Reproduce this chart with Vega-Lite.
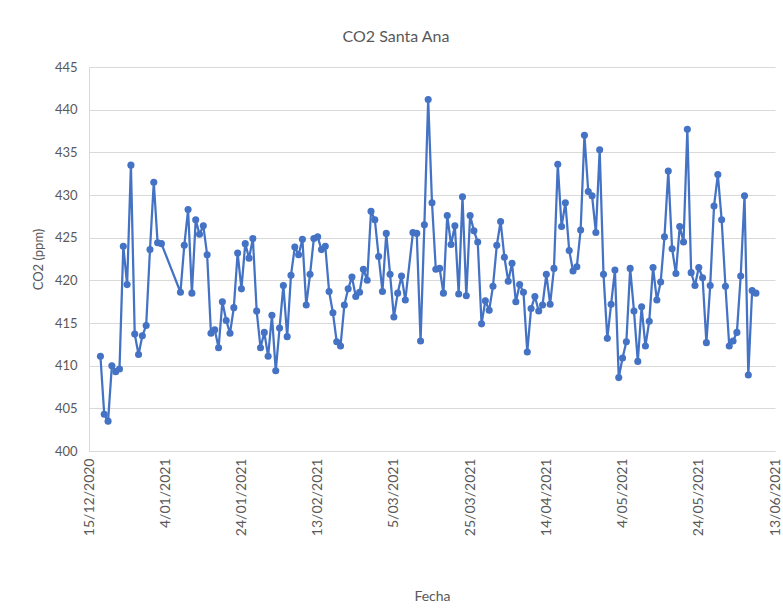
{
  "$schema": "https://vega.github.io/schema/vega-lite/v6.json",
  "width": 686,
  "height": 384,
  "autosize": {"type": "none"},
  "padding": {"left": 89, "top": 67, "right": 8, "bottom": 158},
  "background": "white",
  "title": {"text": "CO2 Santa Ana", "font": "Lato", "fontSize": 16, "fontWeight": "normal", "color": "#595959", "offset": 16, "anchor": "middle", "dx": -36},
  "config": {"view": {"stroke": null}},
  "data": {"values": [
    {"fecha": "2020-12-18", "co2": 411.1},
    {"fecha": "2020-12-19", "co2": 404.3},
    {"fecha": "2020-12-20", "co2": 403.5},
    {"fecha": "2020-12-21", "co2": 410.0},
    {"fecha": "2020-12-22", "co2": 409.3},
    {"fecha": "2020-12-23", "co2": 409.6},
    {"fecha": "2020-12-24", "co2": 424.0},
    {"fecha": "2020-12-25", "co2": 419.5},
    {"fecha": "2020-12-26", "co2": 433.5},
    {"fecha": "2020-12-27", "co2": 413.7},
    {"fecha": "2020-12-28", "co2": 411.3},
    {"fecha": "2020-12-29", "co2": 413.5},
    {"fecha": "2020-12-30", "co2": 414.7},
    {"fecha": "2020-12-31", "co2": 423.6},
    {"fecha": "2021-01-01", "co2": 431.5},
    {"fecha": "2021-01-02", "co2": 424.4},
    {"fecha": "2021-01-03", "co2": 424.3},
    {"fecha": "2021-01-08", "co2": 418.6},
    {"fecha": "2021-01-09", "co2": 424.1},
    {"fecha": "2021-01-10", "co2": 428.3},
    {"fecha": "2021-01-11", "co2": 418.5},
    {"fecha": "2021-01-12", "co2": 427.1},
    {"fecha": "2021-01-13", "co2": 425.4},
    {"fecha": "2021-01-14", "co2": 426.4},
    {"fecha": "2021-01-15", "co2": 423.0},
    {"fecha": "2021-01-16", "co2": 413.8},
    {"fecha": "2021-01-17", "co2": 414.2},
    {"fecha": "2021-01-18", "co2": 412.1},
    {"fecha": "2021-01-19", "co2": 417.5},
    {"fecha": "2021-01-20", "co2": 415.3},
    {"fecha": "2021-01-21", "co2": 413.8},
    {"fecha": "2021-01-22", "co2": 416.8},
    {"fecha": "2021-01-23", "co2": 423.2},
    {"fecha": "2021-01-24", "co2": 419.0},
    {"fecha": "2021-01-25", "co2": 424.3},
    {"fecha": "2021-01-26", "co2": 422.6},
    {"fecha": "2021-01-27", "co2": 424.9},
    {"fecha": "2021-01-28", "co2": 416.4},
    {"fecha": "2021-01-29", "co2": 412.1},
    {"fecha": "2021-01-30", "co2": 413.9},
    {"fecha": "2021-01-31", "co2": 411.1},
    {"fecha": "2021-02-01", "co2": 415.9},
    {"fecha": "2021-02-02", "co2": 409.4},
    {"fecha": "2021-02-03", "co2": 414.4},
    {"fecha": "2021-02-04", "co2": 419.4},
    {"fecha": "2021-02-05", "co2": 413.4},
    {"fecha": "2021-02-06", "co2": 420.6},
    {"fecha": "2021-02-07", "co2": 423.9},
    {"fecha": "2021-02-08", "co2": 423.0},
    {"fecha": "2021-02-09", "co2": 424.8},
    {"fecha": "2021-02-10", "co2": 417.1},
    {"fecha": "2021-02-11", "co2": 420.7},
    {"fecha": "2021-02-12", "co2": 424.9},
    {"fecha": "2021-02-13", "co2": 425.1},
    {"fecha": "2021-02-14", "co2": 423.6},
    {"fecha": "2021-02-15", "co2": 424.0},
    {"fecha": "2021-02-16", "co2": 418.7},
    {"fecha": "2021-02-17", "co2": 416.2},
    {"fecha": "2021-02-18", "co2": 412.8},
    {"fecha": "2021-02-19", "co2": 412.3},
    {"fecha": "2021-02-20", "co2": 417.1},
    {"fecha": "2021-02-21", "co2": 419.0},
    {"fecha": "2021-02-22", "co2": 420.4},
    {"fecha": "2021-02-23", "co2": 418.1},
    {"fecha": "2021-02-24", "co2": 418.6},
    {"fecha": "2021-02-25", "co2": 421.3},
    {"fecha": "2021-02-26", "co2": 420.0},
    {"fecha": "2021-02-27", "co2": 428.1},
    {"fecha": "2021-02-28", "co2": 427.1},
    {"fecha": "2021-03-01", "co2": 422.8},
    {"fecha": "2021-03-02", "co2": 418.7},
    {"fecha": "2021-03-03", "co2": 425.5},
    {"fecha": "2021-03-04", "co2": 420.7},
    {"fecha": "2021-03-05", "co2": 415.7},
    {"fecha": "2021-03-06", "co2": 418.5},
    {"fecha": "2021-03-07", "co2": 420.5},
    {"fecha": "2021-03-08", "co2": 417.7},
    {"fecha": "2021-03-10", "co2": 425.6},
    {"fecha": "2021-03-11", "co2": 425.5},
    {"fecha": "2021-03-12", "co2": 412.9},
    {"fecha": "2021-03-13", "co2": 426.5},
    {"fecha": "2021-03-14", "co2": 441.2},
    {"fecha": "2021-03-15", "co2": 429.1},
    {"fecha": "2021-03-16", "co2": 421.3},
    {"fecha": "2021-03-17", "co2": 421.4},
    {"fecha": "2021-03-18", "co2": 418.5},
    {"fecha": "2021-03-19", "co2": 427.6},
    {"fecha": "2021-03-20", "co2": 424.2},
    {"fecha": "2021-03-21", "co2": 426.4},
    {"fecha": "2021-03-22", "co2": 418.4},
    {"fecha": "2021-03-23", "co2": 429.8},
    {"fecha": "2021-03-24", "co2": 418.2},
    {"fecha": "2021-03-25", "co2": 427.6},
    {"fecha": "2021-03-26", "co2": 425.8},
    {"fecha": "2021-03-27", "co2": 424.5},
    {"fecha": "2021-03-28", "co2": 414.9},
    {"fecha": "2021-03-29", "co2": 417.6},
    {"fecha": "2021-03-30", "co2": 416.5},
    {"fecha": "2021-03-31", "co2": 419.3},
    {"fecha": "2021-04-01", "co2": 424.1},
    {"fecha": "2021-04-02", "co2": 426.9},
    {"fecha": "2021-04-03", "co2": 422.7},
    {"fecha": "2021-04-04", "co2": 419.9},
    {"fecha": "2021-04-05", "co2": 422.0},
    {"fecha": "2021-04-06", "co2": 417.5},
    {"fecha": "2021-04-07", "co2": 419.5},
    {"fecha": "2021-04-08", "co2": 418.6},
    {"fecha": "2021-04-09", "co2": 411.6},
    {"fecha": "2021-04-10", "co2": 416.7},
    {"fecha": "2021-04-11", "co2": 418.1},
    {"fecha": "2021-04-12", "co2": 416.4},
    {"fecha": "2021-04-13", "co2": 417.1},
    {"fecha": "2021-04-14", "co2": 420.7},
    {"fecha": "2021-04-15", "co2": 417.2},
    {"fecha": "2021-04-16", "co2": 421.4},
    {"fecha": "2021-04-17", "co2": 433.6},
    {"fecha": "2021-04-18", "co2": 426.3},
    {"fecha": "2021-04-19", "co2": 429.1},
    {"fecha": "2021-04-20", "co2": 423.5},
    {"fecha": "2021-04-21", "co2": 421.1},
    {"fecha": "2021-04-22", "co2": 421.6},
    {"fecha": "2021-04-23", "co2": 425.9},
    {"fecha": "2021-04-24", "co2": 437.0},
    {"fecha": "2021-04-25", "co2": 430.4},
    {"fecha": "2021-04-26", "co2": 429.9},
    {"fecha": "2021-04-27", "co2": 425.6},
    {"fecha": "2021-04-28", "co2": 435.3},
    {"fecha": "2021-04-29", "co2": 420.7},
    {"fecha": "2021-04-30", "co2": 413.2},
    {"fecha": "2021-05-01", "co2": 417.2},
    {"fecha": "2021-05-02", "co2": 421.2},
    {"fecha": "2021-05-03", "co2": 408.6},
    {"fecha": "2021-05-04", "co2": 410.9},
    {"fecha": "2021-05-05", "co2": 412.8},
    {"fecha": "2021-05-06", "co2": 421.4},
    {"fecha": "2021-05-07", "co2": 416.4},
    {"fecha": "2021-05-08", "co2": 410.5},
    {"fecha": "2021-05-09", "co2": 416.9},
    {"fecha": "2021-05-10", "co2": 412.3},
    {"fecha": "2021-05-11", "co2": 415.2},
    {"fecha": "2021-05-12", "co2": 421.5},
    {"fecha": "2021-05-13", "co2": 417.7},
    {"fecha": "2021-05-14", "co2": 419.8},
    {"fecha": "2021-05-15", "co2": 425.1},
    {"fecha": "2021-05-16", "co2": 432.8},
    {"fecha": "2021-05-17", "co2": 423.7},
    {"fecha": "2021-05-18", "co2": 420.8},
    {"fecha": "2021-05-19", "co2": 426.3},
    {"fecha": "2021-05-20", "co2": 424.5},
    {"fecha": "2021-05-21", "co2": 437.7},
    {"fecha": "2021-05-22", "co2": 420.9},
    {"fecha": "2021-05-23", "co2": 419.4},
    {"fecha": "2021-05-24", "co2": 421.5},
    {"fecha": "2021-05-25", "co2": 420.3},
    {"fecha": "2021-05-26", "co2": 412.7},
    {"fecha": "2021-05-27", "co2": 419.4},
    {"fecha": "2021-05-28", "co2": 428.7},
    {"fecha": "2021-05-29", "co2": 432.4},
    {"fecha": "2021-05-30", "co2": 427.1},
    {"fecha": "2021-05-31", "co2": 419.3},
    {"fecha": "2021-06-01", "co2": 412.3},
    {"fecha": "2021-06-02", "co2": 412.9},
    {"fecha": "2021-06-03", "co2": 413.9},
    {"fecha": "2021-06-04", "co2": 420.5},
    {"fecha": "2021-06-05", "co2": 429.9},
    {"fecha": "2021-06-06", "co2": 408.9},
    {"fecha": "2021-06-07", "co2": 418.8},
    {"fecha": "2021-06-08", "co2": 418.5}
  ]},
  "mark": {"type": "line", "color": "#4472C4", "strokeWidth": 2.25, "point": {"filled": true, "size": 50, "color": "#4472C4", "opacity": 1}},
  "encoding": {
    "x": {
      "field": "fecha", "type": "temporal",
      "scale": {"type": "utc", "domain": [{"year": 2020, "month": 12, "date": 15, "utc": true}, {"year": 2021, "month": 6, "date": 13, "utc": true}]},
      "axis": {
        "values": [
          {"year": 2020, "month": 12, "date": 15, "utc": true},
          {"year": 2021, "month": 1, "date": 4, "utc": true},
          {"year": 2021, "month": 1, "date": 24, "utc": true},
          {"year": 2021, "month": 2, "date": 13, "utc": true},
          {"year": 2021, "month": 3, "date": 5, "utc": true},
          {"year": 2021, "month": 3, "date": 25, "utc": true},
          {"year": 2021, "month": 4, "date": 14, "utc": true},
          {"year": 2021, "month": 5, "date": 4, "utc": true},
          {"year": 2021, "month": 5, "date": 24, "utc": true},
          {"year": 2021, "month": 6, "date": 13, "utc": true}
        ],
        "labelExpr": "utcFormat(datum.value, '%-d/%m/%Y')",
        "labelAngle": 270, "labelPadding": 7, "labelFlush": false, "labelOverlap": false, "labelBound": false,
        "labelFont": "Lato", "labelFontSize": 14, "labelColor": "#595959",
        "ticks": false, "grid": false, "domainColor": "#d9d9d9", "domainWidth": 1,
        "title": "Fecha", "titleFont": "Lato", "titleFontSize": 14, "titleFontWeight": "normal", "titleColor": "#595959", "titlePadding": 54
      }
    },
    "y": {
      "field": "co2", "type": "quantitative",
      "scale": {"domain": [400, 445], "nice": false, "zero": false},
      "axis": {
        "values": [400, 405, 410, 415, 420, 425, 430, 435, 440, 445],
        "labelFont": "Lato", "labelFontSize": 13, "labelColor": "#595959", "labelPadding": 12,
        "ticks": false, "grid": true, "gridColor": "#d9d9d9", "gridWidth": 1, "domainColor": "#d9d9d9",
        "title": "CO2 (ppm)", "titleFont": "Lato", "titleFontSize": 13, "titleFontWeight": "normal", "titleColor": "#595959", "titlePadding": 9
      }
    }
  }
}
